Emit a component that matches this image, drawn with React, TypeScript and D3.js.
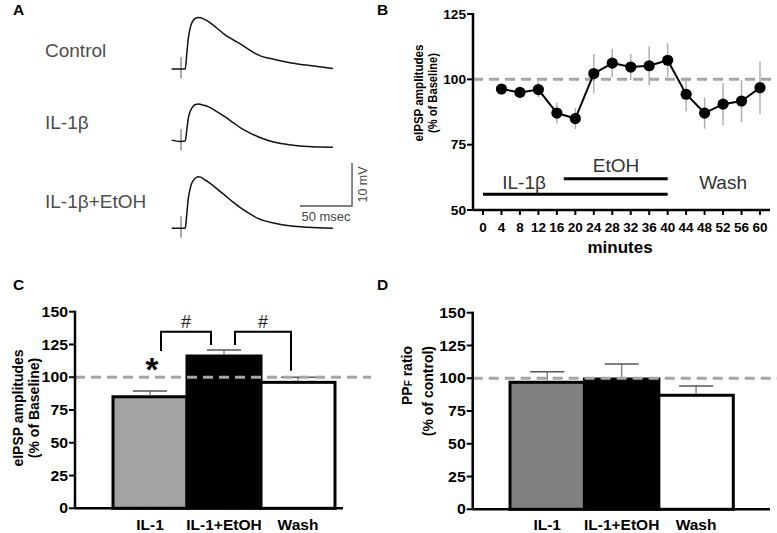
import * as d3 from "d3";

const FONT = "'Liberation Sans', Arial, Helvetica, sans-serif";

// ---- Panel A: example traces (ms, mV above baseline) ----
const traceTimes = [0, 8, 13, 14.5, 16, 17.5, 19, 21, 23, 25.5, 28, 31, 35, 43, 51, 59, 67, 75, 83, 99, 115, 131, 155];
const traceControl = [0, 0, 0, 3.5, 7.2, 9.2, 10.5, 11.4, 11.8, 12.0, 11.9, 11.6, 11.1, 9.6, 8.0, 6.8, 5.65, 4.4, 3.3, 2.2, 1.4, 0.86, 0.1];
const traceIL1b = [0.2, -0.1, 0, 2.5, 5.3, 6.7, 7.5, 8.2, 8.5, 8.6, 8.5, 8.3, 8.0, 6.9, 5.65, 4.3, 2.95, 1.9, 1.0, -0.3, -0.93, -1.3, -1.47];
const traceIL1bEtOH = [0, 0, 0, 3.3, 7.0, 9.0, 10.3, 11.2, 11.7, 12.0, 11.9, 11.4, 10.8, 9.3, 7.7, 6.1, 4.65, 3.4, 2.3, 1.16, 0.53, 0.23, 0];
const traceNames = ["Control", "IL-1β", "IL-1β+EtOH"];
const stimTime = 9;
const stimArtifact = [2.8, -2.2];
const scaleBarMs = 50;
const scaleBarMv = 10;

// ---- Panel B: time course ----
const minutes = [4, 8, 12, 16, 20, 24, 28, 32, 36, 40, 44, 48, 52, 56, 60];
const amplitude = [96.3, 95.0, 96.1, 87.1, 85.0, 102.2, 106.2, 104.7, 105.2, 107.3, 94.3, 87.1, 90.5, 91.7, 96.8];
const amplitudeErr = [1.5, 2, 3, 4, 4, 7.5, 5.5, 5, 7.5, 6.5, 6.5, 6, 8, 8, 10];
const minuteTicks = [0, 4, 8, 12, 16, 20, 24, 28, 32, 36, 40, 44, 48, 52, 56, 60];
const timeTicks = [50, 75, 100, 125];
const treatmentLabels = ["IL-1β", "EtOH"];
const treatmentStart = [0, 17.5];
const treatmentEnd = [40, 40];
const treatmentLevel = [56, 62];
const treatmentLabelAt = [8.9, 28.8];
const treatmentLabelLevel = [58, 64.5];
const washLabelAt = 52;

// ---- Panels C and D: bar summaries ----
const groups = ["IL-1", "IL-1+EtOH", "Wash"];
const eipsp = [85.1, 116.2, 96.1];
const eipspErr = [4.4, 4.5, 3.8];
const ppf = [96.9, 99.4, 87.0];
const ppfErr = [8.1, 11.5, 7.1];
const barTicks = [0, 25, 50, 75, 100, 125, 150];
const barFillC = ["#a3a3a6", "#000", "#fff"];
const barFillD = ["#808080", "#000", "#fff"];

// significance brackets for panel C: [from, to, left leg bottom, right leg bottom, top]
const brackets: [number, number, number, number, number][] = [
  [0, 1, 120, 124.6, 134.7],
  [1, 2, 124.6, 105, 134.7],
];

function Traces() {
  const x = d3.scaleLinear().domain([0, 50]).range([171.7, 223.7]);
  const rows = [69, 141, 228.3];
  const series = [traceControl, traceIL1b, traceIL1bEtOH];
  const labelY = [56.6, 128.6, 208];
  const barRight = x(173.4);
  const barBottom = 206;
  const yBar = d3.scaleLinear().domain([0, 10]).range([0, 43]);
  const barLen = x(scaleBarMs) - x(0);
  return (
    <g>
      {series.map((vals, i) => {
        const y = d3.scaleLinear().domain([0, 10]).range([rows[i], rows[i] - 43]);
        const line = d3
          .line<number>()
          .x((_, j) => x(traceTimes[j]))
          .y((v) => y(v))
          .curve(d3.curveMonotoneX);
        return (
          <g key={i}>
            <line x1={x(stimTime)} x2={x(stimTime)} y1={y(stimArtifact[0])} y2={y(stimArtifact[1])}
              stroke="#555" strokeWidth={1} />
            <path d={line(vals) || ""} fill="none" stroke="#111" strokeWidth={1.5} />
            <text x={45} y={labelY[i]} fontSize={19} fill="#4d4d4d">{traceNames[i]}</text>
          </g>
        );
      })}
      <path d={`M${barRight - barLen},${barBottom}H${barRight}V${barBottom - yBar(scaleBarMv)}`}
        fill="none" stroke="#555" strokeWidth={1.4} />
      <text x={barRight - barLen / 2} y={221} fontSize={13} fill="#444" textAnchor="middle">
        {scaleBarMs} msec
      </text>
      <text transform={`translate(367,${barBottom - yBar(scaleBarMv) / 2}) rotate(-90)`} fontSize={12.5}
        fill="#444" textAnchor="middle">{scaleBarMv} mV</text>
    </g>
  );
}

function TimeCourse() {
  const x = d3.scaleLinear().domain([0, 60]).range([483, 760]);
  const y = d3.scaleLinear().domain([50, 125]).range([210, 14]);
  const line = d3
    .line<number>()
    .x((_, i) => x(minutes[i]))
    .y((v) => y(v));
  const axisX = 473;
  return (
    <g>
      {minutes.map((m, i) => (
        <line key={m} x1={x(m)} x2={x(m)} y1={y(amplitude[i] - amplitudeErr[i])}
          y2={y(amplitude[i] + amplitudeErr[i])} stroke="#b0b0b0" strokeWidth={1.5} />
      ))}
      <line x1={axisX} x2={777} y1={y(100)} y2={y(100)} stroke="#a6a6a6" strokeWidth={3}
        strokeDasharray="10 6" />
      <path d={line(amplitude) || ""} fill="none" stroke="#000" strokeWidth={2} />
      {minutes.map((m, i) => (
        <circle key={m} cx={x(m)} cy={y(amplitude[i])} r={5.6} fill="#000" />
      ))}
      {treatmentLabels.map((t, i) => (
        <g key={t}>
          <line x1={x(treatmentStart[i])} x2={x(treatmentEnd[i])} y1={y(treatmentLevel[i])}
            y2={y(treatmentLevel[i])} stroke="#000" strokeWidth={3} />
          <text x={x(treatmentLabelAt[i])} y={y(treatmentLabelLevel[i])} fontSize={19} fill="#333"
            textAnchor="middle">{t}</text>
        </g>
      ))}
      <text x={x(washLabelAt)} y={y(58)} fontSize={19} fill="#333" textAnchor="middle">Wash</text>
      <line x1={axisX} x2={axisX} y1={y(125) - 1} y2={y(50)} stroke="#000" strokeWidth={2.5} />
      <line x1={axisX} x2={770} y1={y(50)} y2={y(50)} stroke="#000" strokeWidth={2.5} />
      {timeTicks.map((t) => (
        <g key={t}>
          <line x1={axisX - 6} x2={axisX} y1={y(t)} y2={y(t)} stroke="#000" strokeWidth={2} />
          <text x={axisX - 7} y={y(t)} dy="0.36em" fontSize={13} fontWeight="bold" textAnchor="end"
            textLength={String(t).length * 7.6} lengthAdjust="spacingAndGlyphs">{t}</text>
        </g>
      ))}
      {minuteTicks.map((m) => (
        <g key={m}>
          <line x1={x(m)} x2={x(m)} y1={y(50)} y2={y(50) + 5} stroke="#000" strokeWidth={2} />
          <text x={x(m)} y={231.5} fontSize={13.5} fontWeight="bold" textAnchor="middle">{m}</text>
        </g>
      ))}
      <text x={620} y={253} fontSize={17} fontWeight="bold" textAnchor="middle">minutes</text>
      <g fontSize={13.5} fontWeight="bold" textAnchor="middle">
        <text transform="translate(423,93) rotate(-90)" textLength={97} lengthAdjust="spacingAndGlyphs">
          eIPSP amplitudes
        </text>
        <text transform="translate(437,93) rotate(-90)" textLength={80} lengthAdjust="spacingAndGlyphs">
          (% of Baseline)
        </text>
      </g>
    </g>
  );
}

function BarPanel(props: {
  values: number[]; errs: number[]; fills: string[]; axisX: number; y0: number; y150: number;
  barRange: [number, number]; axisEnd: number; children?: any;
}) {
  const { values, errs, fills, axisX, y0, y150, barRange, axisEnd } = props;
  const y = d3.scaleLinear().domain([0, 150]).range([y0, y150]);
  const x = d3.scaleBand<string>().domain(groups).range(barRange).padding(0);
  return (
    <g>
      {groups.map((g, i) => (
        <rect key={g} x={x(g)!} y={y(values[i])} width={x.bandwidth()} height={y(0) - y(values[i])}
          fill={fills[i]} stroke="#000" strokeWidth={3} />
      ))}
      {groups.map((g, i) => {
        const cx = x(g)! + x.bandwidth() / 2;
        return (
          <g key={g} stroke="#555" strokeWidth={1.5}>
            <line x1={cx} x2={cx} y1={y(values[i]) - 1.5} y2={y(values[i] + errs[i])} stroke="#888" />
            <line x1={cx - 17} x2={cx + 17} y1={y(values[i] + errs[i])} y2={y(values[i] + errs[i])} />
          </g>
        );
      })}
      <line x1={axisX} x2={axisEnd + 28} y1={y(100)} y2={y(100)} stroke="#a6a6a6" strokeWidth={3}
        strokeDasharray="10 6" />
      <line x1={axisX} x2={axisX} y1={y(150) - 1} y2={y(0)} stroke="#000" strokeWidth={2.5} />
      <line x1={axisX} x2={axisEnd} y1={y(0)} y2={y(0)} stroke="#000" strokeWidth={2.5} />
      {barTicks.map((t) => (
        <g key={t}>
          <line x1={axisX - 6} x2={axisX} y1={y(t)} y2={y(t)} stroke="#000" strokeWidth={2} />
          <text x={axisX - 7} y={y(t)} dy="0.36em" fontSize={14} fontWeight="bold" textAnchor="end"
            textLength={String(t).length * 8.8} lengthAdjust="spacingAndGlyphs">{t}</text>
        </g>
      ))}
      {groups.map((g) => (
        <text key={g} x={x(g)! + x.bandwidth() / 2} y={529.5} fontSize={15.5} fontWeight="bold"
          textAnchor="middle">{g}</text>
      ))}
      {props.children ? props.children(x, y) : null}
    </g>
  );
}

export default function App() {
  return (
    <svg width={777} height={533} style={{ position: "absolute", left: 0, top: 0, background: "#fff" }}
      fontFamily={FONT}>
      <rect width={777} height={533} fill="#fff" />
      <g fontSize={15.5} fontWeight="bold">
        <text x={13} y={15}>A</text>
        <text x={377} y={15}>B</text>
        <text x={13} y={290}>C</text>
        <text x={377} y={290}>D</text>
      </g>
      <Traces />
      <TimeCourse />
      <BarPanel values={eipsp} errs={eipspErr} fills={barFillC} axisX={75} y0={508.3} y150={311.7}
        barRange={[113, 335]} axisEnd={343}>
        {(x: any, y: any) => (
          <g>
            {brackets.map(([a, b, l, r, top], i) => {
              const xa = x(groups[a]) + x.bandwidth() / 2 + 11;
              const xb = x(groups[b]) + x.bandwidth() / 2 - (b === 2 ? 7 : 13);
              return (
                <g key={i}>
                  <path d={`M${xa},${y(l)}V${y(top)}H${xb}V${y(r)}`} fill="none" stroke="#000" strokeWidth={2} />
                  <text x={(xa + xb) / 2} y={y(top) - 4} fontSize={18} fill="#222" textAnchor="middle">#</text>
                </g>
              );
            })}
            <text x={x(groups[0]) + x.bandwidth() / 2 + 2} y={381} fontSize={33} fontWeight="bold"
              textAnchor="middle">*</text>
          </g>
        )}
      </BarPanel>
      <g fontSize={14} fontWeight="bold" textAnchor="middle">
        <text transform="translate(22.5,408) rotate(-90)">eIPSP amplitudes</text>
        <text transform="translate(38.5,408) rotate(-90)">(% of Baseline)</text>
      </g>
      <BarPanel values={ppf} errs={ppfErr} fills={barFillD} axisX={472.7} y0={509.3} y150={312.7}
        barRange={[510, 733.3]} axisEnd={770} />
      <g fontSize={14} fontWeight="bold" textAnchor="end">
        <text transform="translate(412,346) rotate(-90)">
          PP<tspan fontSize={10}>F</tspan>{" ratio"}
        </text>
        <text transform="translate(433,346) rotate(-90)">(% of control)</text>
      </g>
    </svg>
  );
}
